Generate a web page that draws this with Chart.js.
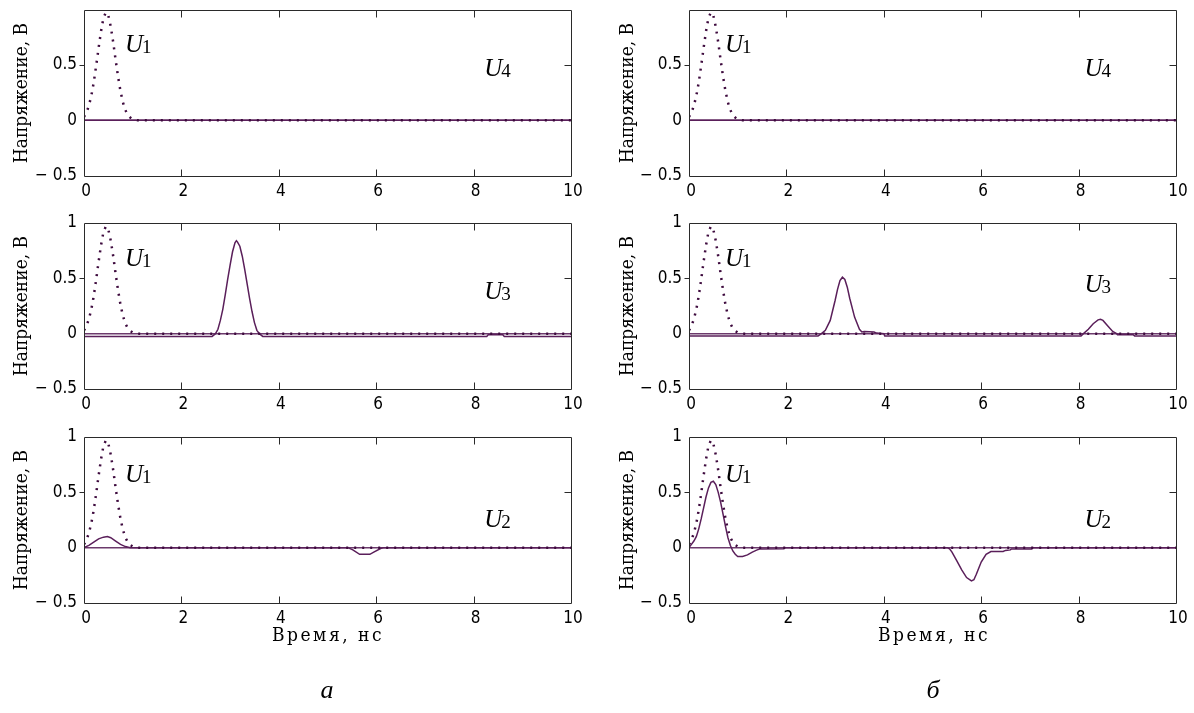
<!DOCTYPE html>
<html>
<head>
<meta charset="utf-8">
<script src="https://cdn.jsdelivr.net/npm/chart.js@4.4.1/dist/chart.umd.min.js"></script>
<style>
  html,body{margin:0;padding:0;background:#fff;}
  #wrap{position:relative;width:1194px;height:713px;background:#fff;overflow:hidden;}
  .panel{position:absolute;}
  .ytitle{position:absolute;font-family:"DejaVu Serif Condensed","DejaVu Serif","Liberation Serif",serif;font-stretch:condensed;font-size:19px;color:#000;white-space:nowrap;transform:translate(-50%,-50%) rotate(-90deg);}
  .xtitle{position:absolute;font-family:"DejaVu Serif Condensed","DejaVu Serif","Liberation Serif",serif;font-stretch:condensed;font-size:19px;letter-spacing:2.5px;color:#000;white-space:nowrap;transform:translate(-50%,-50%);}
  .letter{position:absolute;font-family:"Liberation Serif","DejaVu Serif",serif;font-style:italic;font-size:26px;color:#000;transform:translate(-50%,-50%);}
</style>
</head>
<body>
<div id="wrap">
  <div class="panel" style="left:0;top:0"><canvas id="a1" width="585" height="206"></canvas></div>
  <div class="panel" style="left:0;top:213px"><canvas id="a2" width="585" height="206"></canvas></div>
  <div class="panel" style="left:0;top:427px"><canvas id="a3" width="585" height="206"></canvas></div>
  <div class="panel" style="left:605px;top:0"><canvas id="b1" width="585" height="206"></canvas></div>
  <div class="panel" style="left:605px;top:213px"><canvas id="b2" width="585" height="206"></canvas></div>
  <div class="panel" style="left:605px;top:427px"><canvas id="b3" width="585" height="206"></canvas></div>

  <div class="ytitle" style="left:20px;top:93px">Напряжение, В</div>
  <div class="ytitle" style="left:20px;top:306px">Напряжение, В</div>
  <div class="ytitle" style="left:20px;top:520px">Напряжение, В</div>
  <div class="ytitle" style="left:626px;top:93px">Напряжение, В</div>
  <div class="ytitle" style="left:626px;top:306px">Напряжение, В</div>
  <div class="ytitle" style="left:626px;top:520px">Напряжение, В</div>

  <div class="xtitle" style="left:328px;top:634px">Время, нс</div>
  <div class="xtitle" style="left:934px;top:634px">Время, нс</div>
  <div class="letter" style="left:327px;top:690px">а</div>
  <div class="letter" style="left:933px;top:690px">б</div>
</div>
<script>
// ---- tick labels ----
const xTicks = [0, 2, 4, 6, 8, 10];
const yTicksTop = [-0.5, 0, 0.5];
const yTicksOther = [-0.5, 0, 0.5, 1];

// ---- U1 (input pulse, dotted) ----
const tU1 = [0,0.05,0.1,0.15,0.2,0.25,0.3,0.35,0.4,0.45,0.5,0.55,0.6,0.65,0.7,0.75,0.8,0.85,0.9,0.95,1.0,1.1,10];
const vU1 = [0.03,0.07,0.13,0.22,0.34,0.49,0.65,0.80,0.92,0.97,0.94,0.84,0.70,0.54,0.39,0.26,0.16,0.09,0.05,0.025,0.01,0,0];

// ---- zero reference ----
const tZero = [0, 10];
const vZero = [0, 0];

// ---- panel а ----
const tU4a = [0, 10];
const vU4a = [0, 0];
const tU3a = [0,2.63,2.70,2.75,2.80,2.85,2.90,2.95,3.00,3.05,3.10,3.13,3.15,3.20,3.25,3.30,3.35,3.40,3.45,3.50,3.55,3.60,3.67,8.27,8.30,8.60,8.63,10];
const vU3a = [-0.025,-0.025,0.0,0.04,0.12,0.22,0.35,0.49,0.62,0.74,0.82,0.84,0.83,0.79,0.70,0.58,0.45,0.32,0.20,0.10,0.03,0.0,-0.025,-0.025,-0.01,-0.01,-0.025,-0.025];
const tU2a = [0,0.1,0.2,0.3,0.4,0.48,0.55,0.65,0.75,0.85,0.95,5.42,5.52,5.66,5.87,5.95,6.1,6.15,10];
const vU2a = [0,0.02,0.05,0.08,0.095,0.10,0.09,0.06,0.03,0.01,0,0,-0.02,-0.06,-0.06,-0.04,-0.005,0,0];

// ---- panel б ----
const tU4b = [0, 10];
const vU4b = [0, 0];
const tU3b = [0,2.65,2.72,2.8,2.9,3.0,3.05,3.1,3.15,3.2,3.25,3.3,3.4,3.5,3.55,3.6,3.8,3.85,4.0,4.02,8.05,8.1,8.2,8.3,8.4,8.45,8.5,8.6,8.7,8.78,8.8,9.12,9.15,10];
const vU3b = [-0.02,-0.02,0.0,0.03,0.12,0.30,0.40,0.48,0.51,0.49,0.42,0.32,0.15,0.04,0.015,0.02,0.015,0.005,0.0,-0.02,-0.02,0.0,0.04,0.09,0.125,0.13,0.12,0.07,0.02,0.0,-0.01,-0.01,-0.02,-0.02];
const tU2b = [0,0.05,0.1,0.15,0.2,0.25,0.3,0.35,0.4,0.45,0.5,0.55,0.6,0.65,0.7,0.75,0.8,0.85,0.9,0.95,1.0,1.1,1.2,1.3,1.4,1.45,1.95,1.97,5.30,5.35,5.4,5.5,5.6,5.7,5.8,5.85,5.9,6.0,6.1,6.2,6.45,6.5,6.6,6.62,7.04,7.05,10];
const vU2b = [0,0.03,0.06,0.10,0.17,0.26,0.36,0.46,0.54,0.59,0.60,0.57,0.50,0.41,0.30,0.19,0.09,0.02,-0.03,-0.06,-0.08,-0.08,-0.065,-0.04,-0.02,-0.012,-0.01,0,0,-0.01,-0.04,-0.12,-0.20,-0.27,-0.30,-0.29,-0.24,-0.13,-0.06,-0.035,-0.035,-0.025,-0.02,-0.012,-0.012,0,0];

const pts = (t, v) => t.map((x, i) => ({x: x, y: v[i]}));

const DOT = '#3e0b3e', SOLID = '#5a1f5a', ZERO = '#6c3a6c';

const framePlugin = {
  id: 'frame',
  afterDatasetsDraw(chart, args, opts) {
    const ctx = chart.ctx, a = chart.chartArea, xs = chart.scales.x, ys = chart.scales.y;
    const L = Math.round(a.left) + 0.5, R = Math.round(a.right) + 0.5, T = Math.round(a.top) + 0.5, B = Math.round(a.bottom) + 0.5;
    ctx.save();
    ctx.strokeStyle = '#2a2a2a';
    ctx.lineWidth = 1;
    ctx.beginPath();
    ctx.rect(L, T, R - L, B - T);
    xs.ticks.forEach(tk => {
      if (tk.value <= 0 || tk.value >= 10) return;
      const px = Math.round(xs.getPixelForValue(tk.value)) + 0.5;
      ctx.moveTo(px, B); ctx.lineTo(px, B - 7);
      ctx.moveTo(px, T); ctx.lineTo(px, T + 7);
    });
    ys.ticks.forEach(tk => {
      if (tk.value <= ys.min || tk.value >= ys.max || tk.value === 0) return;
      const py = Math.round(ys.getPixelForValue(tk.value)) + 0.5;
      ctx.moveTo(L - 5, py); ctx.lineTo(L, py);
      ctx.moveTo(R, py); ctx.lineTo(R - 7, py);
    });
    ctx.stroke();
    (opts.labels || []).forEach(lb => {
      const px = xs.getPixelForValue(lb.t), py = ys.getPixelForValue(lb.v);
      ctx.fillStyle = '#000';
      ctx.textBaseline = 'alphabetic';
      ctx.textAlign = 'left';
      ctx.font = 'italic 25px "Liberation Serif", serif';
      ctx.fillText('U', px, py);
      const w = ctx.measureText('U').width;
      ctx.font = '19px "Liberation Serif", serif';
      ctx.fillText(lb.n, px + w - 1, py + 1);
    });
    ctx.restore();
  }
};

const tickFont = {family: '"Liberation Sans Narrow", "DejaVu Sans Condensed", "Liberation Sans", sans-serif', size: 17};

function makeChart(id, series, yTicks, yMax, labels) {
  const datasets = [
    {data: pts(tU1, vU1), borderColor: DOT, borderWidth: 2.5, borderDash: [2, 6], borderCapStyle: 'butt', pointRadius: 0, fill: false},
    {data: pts(series[0], series[1]), borderColor: SOLID, borderWidth: 1.5, pointRadius: 0, fill: false},
    {data: pts(tZero, vZero), borderColor: ZERO, borderWidth: 1.5, pointRadius: 0, fill: false}
  ];
  return new Chart(document.getElementById(id), {
    type: 'line',
    data: {datasets: datasets},
    options: {
      responsive: false,
      animation: false,
      events: [],
      layout: {padding: {top: 10, right: 14, left: 0, bottom: 0}},
      plugins: {legend: {display: false}, tooltip: {enabled: false}, frame: {labels: labels}},
      scales: {
        x: {
          type: 'linear', min: 0, max: 10,
          afterBuildTicks: s => { s.ticks = xTicks.map(v => ({value: v})); },
          afterFit: s => { s.height = 30; s.paddingLeft = 0; s.paddingRight = 0; },
          grid: {display: false, drawTicks: false}, border: {display: false},
          ticks: {font: tickFont, color: '#000', padding: 5, labelOffset: 2, maxRotation: 0, autoSkip: false, callback: v => String(v)}
        },
        y: {
          type: 'linear', min: -0.5, max: yMax,
          afterBuildTicks: s => { s.ticks = yTicks.map(v => ({value: v})); },
          afterFit: s => { s.width = 84; s.paddingTop = 0; s.paddingBottom = 0; },
          grid: {display: false, drawTicks: false}, border: {display: false},
          ticks: {font: tickFont, color: '#000', padding: 7, autoSkip: false,
                  callback: v => v < 0 ? '\u2212 ' + String(Math.abs(v)) : String(v)}
        }
      }
    },
    plugins: [framePlugin]
  });
}

makeChart('a1', [tU4a, vU4a], yTicksTop, 0.99, [{t: 0.84, v: 0.61, n: '1'}, {t: 8.22, v: 0.40, n: '4'}]);
makeChart('a2', [tU3a, vU3a], yTicksOther, 1, [{t: 0.84, v: 0.61, n: '1'}, {t: 8.22, v: 0.31, n: '3'}]);
makeChart('a3', [tU2a, vU2a], yTicksOther, 1, [{t: 0.84, v: 0.59, n: '1'}, {t: 8.22, v: 0.19, n: '2'}]);
makeChart('b1', [tU4b, vU4b], yTicksTop, 0.99, [{t: 0.74, v: 0.61, n: '1'}, {t: 8.12, v: 0.40, n: '4'}]);
makeChart('b2', [tU3b, vU3b], yTicksOther, 1, [{t: 0.74, v: 0.61, n: '1'}, {t: 8.12, v: 0.38, n: '3'}]);
makeChart('b3', [tU2b, vU2b], yTicksOther, 1, [{t: 0.74, v: 0.59, n: '1'}, {t: 8.12, v: 0.19, n: '2'}]);
</script>
</body>
</html>
